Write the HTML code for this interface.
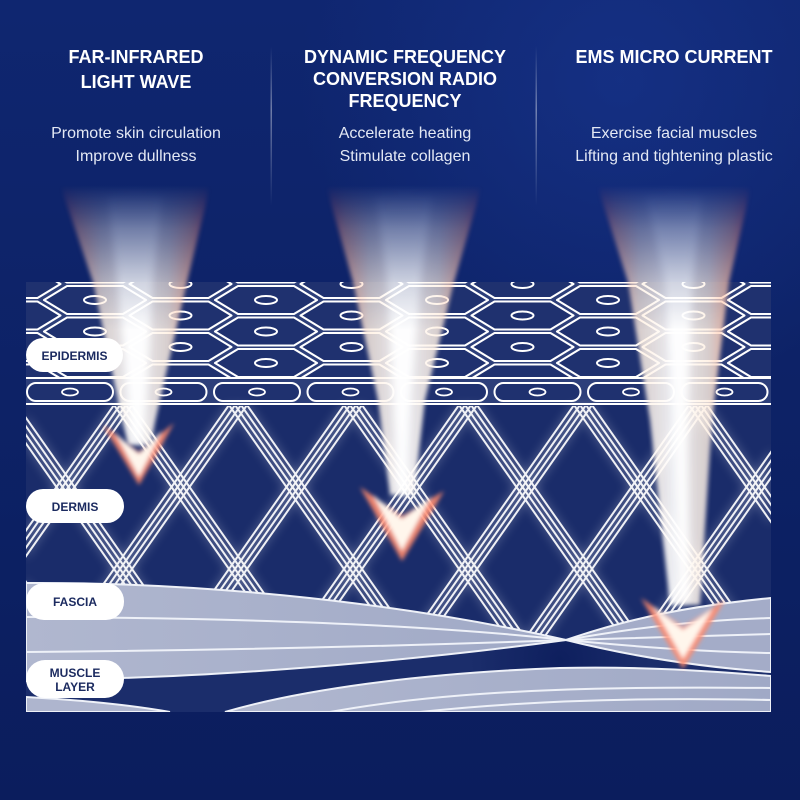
<!DOCTYPE html>
<html><head><meta charset="utf-8"><style>
html,body{margin:0;padding:0;background:#0c2163;}
svg{display:block;}
text{font-family:"Liberation Sans",Arial,sans-serif;}
</style></head><body>
<svg width="800" height="800" viewBox="0 0 800 800" xmlns="http://www.w3.org/2000/svg">
<defs>
  <linearGradient id="bg" x1="0" y1="0" x2="0" y2="1">
    <stop offset="0" stop-color="#0f2670"/>
    <stop offset="0.5" stop-color="#0d2266"/>
    <stop offset="1" stop-color="#0b1d5d"/>
  </linearGradient>
  <radialGradient id="bgGlow" cx="620" cy="80" r="320" gradientUnits="userSpaceOnUse">
    <stop offset="0" stop-color="#1a3894" stop-opacity="0.55"/>
    <stop offset="1" stop-color="#1a3894" stop-opacity="0"/>
  </radialGradient>
  <linearGradient id="div" x1="0" y1="0" x2="0" y2="1">
    <stop offset="0" stop-color="#fff" stop-opacity="0"/>
    <stop offset="0.4" stop-color="#fff" stop-opacity="0.4"/>
    <stop offset="1" stop-color="#fff" stop-opacity="0"/>
  </linearGradient>
  <pattern id="lat" x="8" y="405" width="115" height="164" patternUnits="userSpaceOnUse">
    <path fill="none" stroke="#ffffff" stroke-width="2" d="
      M-9,0L106,164M-124,0L-9,164M106,0L221,164
      M-3,0L112,164M-118,0L-3,164M112,0L227,164
      M3,0L118,164M-112,0L3,164M118,0L233,164
      M9,0L124,164M-106,0L9,164M124,0L239,164
      M106,0L-9,164M-9,0L-124,164M221,0L106,164
      M112,0L-3,164M-3,0L-118,164M227,0L112,164
      M118,0L3,164M3,0L-112,164M233,0L118,164
      M124,0L9,164M9,0L-106,164M239,0L124,164"/>
  </pattern>
  <filter id="haze" x="-5%" y="-5%" width="110%" height="110%"><feGaussianBlur stdDeviation="5"/></filter>
  <filter id="b2" x="-30%" y="-30%" width="160%" height="160%"><feGaussianBlur stdDeviation="2"/></filter>
  <filter id="b4" x="-50%" y="-30%" width="200%" height="160%"><feGaussianBlur stdDeviation="4"/></filter>
  <clipPath id="panel"><rect x="26" y="282" width="745" height="430"/></clipPath>
  <clipPath id="epi"><rect x="26" y="282" width="745" height="95"/></clipPath>
  <path id="hx" d="M-51,0 L-28,-14 L28,-14 L51,0 L28,14 L-28,14 Z" fill="#1f316f" stroke="#ffffff" stroke-width="2.1" stroke-linejoin="round"/>
  <ellipse id="nu" cx="0" cy="0" rx="11" ry="4" fill="none" stroke="#ffffff" stroke-width="2"/>
  <linearGradient id="beamG" x1="0" y1="0" x2="1" y2="0">
    <stop offset="0" stop-color="#ff6a50" stop-opacity="0"/>
    <stop offset="0.05" stop-color="#ff7458" stop-opacity="0.85"/>
    <stop offset="0.13" stop-color="#ffb596" stop-opacity="0.85"/>
    <stop offset="0.28" stop-color="#fff0e2" stop-opacity="0.82"/>
    <stop offset="0.5" stop-color="#ffffff" stop-opacity="0.92"/>
    <stop offset="0.72" stop-color="#fff0e2" stop-opacity="0.82"/>
    <stop offset="0.87" stop-color="#ffb596" stop-opacity="0.85"/>
    <stop offset="0.95" stop-color="#ff7458" stop-opacity="0.85"/>
    <stop offset="1" stop-color="#ff6a50" stop-opacity="0"/>
  </linearGradient>
  <linearGradient id="fadeG" x1="0" y1="185" x2="0" y2="330" gradientUnits="userSpaceOnUse">
    <stop offset="0" stop-color="#000"/>
    <stop offset="0.3" stop-color="#6a6a6a"/>
    <stop offset="0.67" stop-color="#cccccc"/>
    <stop offset="1" stop-color="#fff"/>
  </linearGradient>
  <mask id="fade" maskUnits="userSpaceOnUse" x="0" y="0" width="800" height="800">
    <rect x="0" y="0" width="800" height="800" fill="url(#fadeG)"/>
  </mask>
  <linearGradient id="band" x1="0" y1="0" x2="1" y2="0">
    <stop offset="0" stop-color="#b0b7cf"/>
    <stop offset="1" stop-color="#a0a9c6"/>
  </linearGradient>
  <radialGradient id="pinch" cx="560" cy="660" r="90" gradientUnits="userSpaceOnUse">
    <stop offset="0" stop-color="#0e1f5e"/>
    <stop offset="1" stop-color="#1b2d6b"/>
  </radialGradient>
</defs>

<!-- background -->
<rect x="0" y="0" width="800" height="800" fill="url(#bg)"/>
<rect x="0" y="0" width="800" height="800" fill="url(#bgGlow)"/>

<!-- dividers -->
<rect x="270.5" y="46" width="1.5" height="160" fill="url(#div)"/>
<rect x="535.5" y="46" width="1.5" height="160" fill="url(#div)"/>

<!-- headings -->
<g fill="#ffffff" font-weight="bold" font-size="18" text-anchor="middle">
  <text x="136" y="63">FAR-INFRARED</text>
  <text x="136" y="88">LIGHT WAVE</text>
  <text x="405" y="63">DYNAMIC FREQUENCY</text>
  <text x="405" y="85">CONVERSION RADIO</text>
  <text x="405" y="107">FREQUENCY</text>
  <text x="674" y="63">EMS MICRO CURRENT</text>
</g>
<g fill="#e3e8f4" font-size="16" text-anchor="middle">
  <text x="136" y="138">Promote skin circulation</text>
  <text x="136" y="161">Improve dullness</text>
  <text x="405" y="138">Accelerate heating</text>
  <text x="405" y="161">Stimulate collagen</text>
  <text x="674" y="138">Exercise facial muscles</text>
  <text x="674" y="161">Lifting and tightening plastic</text>
</g>

<!-- panel -->
<g clip-path="url(#panel)">
  <rect x="26" y="282" width="745" height="430" fill="#1a2c6a"/>
  <!-- epidermis -->
  <rect x="26" y="282" width="745" height="123" fill="#2d3f7a"/>
  <g clip-path="url(#epi)">
    <g>
      <use href="#hx" x="95" y="268.5"/><use href="#hx" x="95" y="300"/><use href="#hx" x="95" y="331.5"/><use href="#hx" x="95" y="363"/>
      <use href="#hx" x="266" y="268.5"/><use href="#hx" x="266" y="300"/><use href="#hx" x="266" y="331.5"/><use href="#hx" x="266" y="363"/>
      <use href="#hx" x="437" y="268.5"/><use href="#hx" x="437" y="300"/><use href="#hx" x="437" y="331.5"/><use href="#hx" x="437" y="363"/>
      <use href="#hx" x="608" y="268.5"/><use href="#hx" x="608" y="300"/><use href="#hx" x="608" y="331.5"/><use href="#hx" x="608" y="363"/>
      <use href="#hx" x="779" y="268.5"/><use href="#hx" x="779" y="300"/><use href="#hx" x="779" y="331.5"/><use href="#hx" x="779" y="363"/>
      <use href="#hx" x="9.5" y="284"/><use href="#hx" x="9.5" y="315.5"/><use href="#hx" x="9.5" y="347"/><use href="#hx" x="9.5" y="378.5"/>
      <use href="#hx" x="180.5" y="284"/><use href="#hx" x="180.5" y="315.5"/><use href="#hx" x="180.5" y="347"/><use href="#hx" x="180.5" y="378.5"/>
      <use href="#hx" x="351.5" y="284"/><use href="#hx" x="351.5" y="315.5"/><use href="#hx" x="351.5" y="347"/><use href="#hx" x="351.5" y="378.5"/>
      <use href="#hx" x="522.5" y="284"/><use href="#hx" x="522.5" y="315.5"/><use href="#hx" x="522.5" y="347"/><use href="#hx" x="522.5" y="378.5"/>
      <use href="#hx" x="693.5" y="284"/><use href="#hx" x="693.5" y="315.5"/><use href="#hx" x="693.5" y="347"/><use href="#hx" x="693.5" y="378.5"/>
    </g>
    <g>
      <use href="#nu" x="95" y="300"/><use href="#nu" x="95" y="331.5"/><use href="#nu" x="95" y="363"/>
      <use href="#nu" x="266" y="300"/><use href="#nu" x="266" y="331.5"/><use href="#nu" x="266" y="363"/>
      <use href="#nu" x="437" y="300"/><use href="#nu" x="437" y="331.5"/><use href="#nu" x="437" y="363"/>
      <use href="#nu" x="608" y="300"/><use href="#nu" x="608" y="331.5"/><use href="#nu" x="608" y="363"/>
      <use href="#nu" x="9.5" y="284"/><use href="#nu" x="9.5" y="315.5"/><use href="#nu" x="9.5" y="347"/>
      <use href="#nu" x="180.5" y="284"/><use href="#nu" x="180.5" y="315.5"/><use href="#nu" x="180.5" y="347"/>
      <use href="#nu" x="351.5" y="284"/><use href="#nu" x="351.5" y="315.5"/><use href="#nu" x="351.5" y="347"/>
      <use href="#nu" x="522.5" y="284"/><use href="#nu" x="522.5" y="315.5"/><use href="#nu" x="522.5" y="347"/>
      <use href="#nu" x="693.5" y="284"/><use href="#nu" x="693.5" y="315.5"/><use href="#nu" x="693.5" y="347"/>
    </g>
  </g>
  <!-- basal row -->
  <rect x="26" y="377" width="745" height="28" fill="#2d3f7a"/>
  <line x1="26" y1="378" x2="771" y2="378" stroke="#fff" stroke-width="2"/>
  <line x1="26" y1="404" x2="771" y2="404" stroke="#fff" stroke-width="2"/>
  <g fill="#1f316f" stroke="#fff" stroke-width="2">
    <rect x="27" y="383" width="86" height="18" rx="9"/>
    <rect x="120.5" y="383" width="86" height="18" rx="9"/>
    <rect x="214" y="383" width="86" height="18" rx="9"/>
    <rect x="307.5" y="383" width="86" height="18" rx="9"/>
    <rect x="401" y="383" width="86" height="18" rx="9"/>
    <rect x="494.5" y="383" width="86" height="18" rx="9"/>
    <rect x="588" y="383" width="86" height="18" rx="9"/>
    <rect x="681.5" y="383" width="86" height="18" rx="9"/>
  </g>
  <g fill="none" stroke="#fff" stroke-width="1.8">
    <ellipse cx="70" cy="392" rx="8" ry="3.5"/>
    <ellipse cx="163.5" cy="392" rx="8" ry="3.5"/>
    <ellipse cx="257" cy="392" rx="8" ry="3.5"/>
    <ellipse cx="350.5" cy="392" rx="8" ry="3.5"/>
    <ellipse cx="444" cy="392" rx="8" ry="3.5"/>
    <ellipse cx="537.5" cy="392" rx="8" ry="3.5"/>
    <ellipse cx="631" cy="392" rx="8" ry="3.5"/>
    <ellipse cx="724.5" cy="392" rx="8" ry="3.5"/>
  </g>

  <!-- dermis lattice -->
  <rect x="26" y="406" width="745" height="240" fill="url(#lat)" filter="url(#haze)" opacity="0.45"/>
  <rect x="26" y="406" width="745" height="240" fill="url(#lat)" opacity="0.92"/>

  <!-- lower dark region -->
  <rect x="26" y="640" width="745" height="72" fill="url(#pinch)"/>

  <!-- fascia / muscle bands -->
  <g stroke="#eef1f8" stroke-width="2">
    <path d="M26,583 C180,582 380,598 566,640 C420,660 250,674 122,678 C80,680 50,681 26,681 Z" fill="url(#band)"/>
    <path d="M566,640 C630,618 690,606 771,598 L771,672 C700,667 630,656 566,640 Z" fill="#a4acc8"/>
    <path d="M225,712 C300,690 420,673 560,668 C650,666 720,672 771,676 L771,712 Z" fill="url(#band)"/>
    <path d="M26,697 C80,700 130,705 170,712 L26,712 Z" fill="#aeb5ce"/>
  </g>
  <g fill="none" stroke="#eef1f8" stroke-width="2">
    <path d="M26,617 C250,618 430,625 566,640"/>
    <path d="M26,652 C250,650 430,645 566,640"/>
    <path d="M566,640 C650,625 710,620 771,618"/>
    <path d="M566,640 C650,638 710,636 771,634"/>
    <path d="M566,640 C650,648 710,652 771,653"/>
    <path d="M420,712 C550,698 680,698 771,700"/>
    <path d="M330,712 C450,690 600,686 771,688"/>
  </g>
</g>

<!-- beams -->
<g mask="url(#fade)">
  <g filter="url(#b2)" fill="url(#beamG)">
    <path d="M58,178 L212,178 L187,282 L160,400 L150,445 L128,445 L118,400 L93,282 Z"/>
    <path d="M324,178 L484,178 L454,282 L425,400 L414,495 L390,495 L378,400 L353,282 Z"/>
    <path d="M595,178 L753,178 L729,282 L712,420 L700,605 L670,605 L650,420 L628,282 Z"/>
  </g>
  <g filter="url(#b4)" fill="#ffffff" opacity="0.95">
    <path d="M108,195 L162,195 L152,282 L146,400 L142,440 L134,440 L129,400 L118,282 Z"/>
    <path d="M376,195 L432,195 L420,282 L410,400 L406,490 L398,490 L394,400 L388,282 Z"/>
    <path d="M646,195 L702,195 L692,282 L687,420 L689,600 L679,600 L674,420 L666,282 Z"/>
  </g>
</g>
<g filter="url(#b2)">
  <g fill="#ff8a6c" opacity="0.9">
    <path d="M103,425 L139,452 L174,423 L139,485 Z"/>
    <path d="M360,487 L402,516 L444,491 L402,561 Z"/>
    <path d="M641,598 L683,627 L725,600 L683,669 Z"/>
  </g>
  <g fill="#fff6ec">
    <path d="M115,433 L139,454 L162,431 L139,477 Z"/>
    <path d="M373,495 L402,519 L431,497 L402,551 Z"/>
    <path d="M653,606 L683,630 L713,608 L683,659 Z"/>
  </g>
</g>

<!-- labels -->
<g fill="#ffffff">
  <rect x="26" y="338" width="97" height="34" rx="17"/>
  <rect x="26" y="489" width="98" height="34" rx="17"/>
  <rect x="26" y="583" width="98" height="37" rx="18"/>
  <rect x="26" y="660" width="98" height="38" rx="19"/>
</g>
<g fill="#1c2b60" font-weight="bold" font-size="12" text-anchor="middle">
  <text x="74.5" y="360">EPIDERMIS</text>
  <text x="75" y="511">DERMIS</text>
  <text x="75" y="606">FASCIA</text>
  <text x="75" y="677">MUSCLE</text>
  <text x="75" y="691">LAYER</text>
</g>
</svg>
</body></html>
